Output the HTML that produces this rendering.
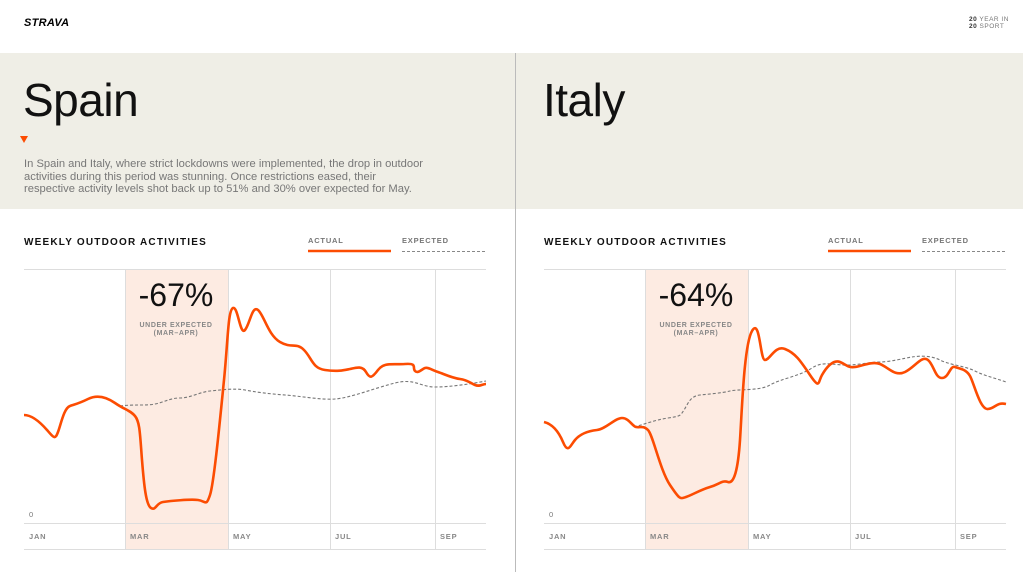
<!DOCTYPE html>
<html><head><meta charset="utf-8"><style>
*{margin:0;padding:0;box-sizing:border-box}
body{width:1023px;height:572px;overflow:hidden;background:#fff;font-family:"Liberation Sans",sans-serif;position:relative}
.abs{position:absolute}
</style></head><body>
<div class="abs" style="left:24px;top:17px;font-weight:900;font-size:11px;letter-spacing:0.3px;font-style:italic">STRAVA</div>
<div class="abs" style="left:969px;top:16px;font-size:6.5px;line-height:7px;color:#777;letter-spacing:0.5px"><b style="color:#333">20</b> YEAR IN<br><b style="color:#333">20</b> SPORT</div>
<div class="abs" style="left:0;top:53px;width:1023px;height:156px;background:#efeee6"></div>
<div class="abs" style="left:515px;top:53px;width:1px;height:519px;background:#bbb"></div>
<div class="abs" style="left:23px;top:73px;font-size:46px;color:#111;letter-spacing:-0.5px">Spain</div>
<div class="abs" style="left:543px;top:73px;font-size:46px;color:#111;letter-spacing:-0.5px">Italy</div>
<div class="abs" style="left:20px;top:136px;width:0;height:0;border-left:4px solid transparent;border-right:4px solid transparent;border-top:7px solid #fc4c02"></div>
<div class="abs" style="left:24px;top:158px;white-space:nowrap;font-size:11.2px;line-height:12.5px;color:#777">In Spain and Italy, where strict lockdowns were implemented, the drop in outdoor<br>activities during this period was stunning. Once restrictions eased, their<br>respective activity levels shot back up to 51% and 30% over expected for May.</div>
<svg class="abs" style="left:0;top:0" width="1023" height="572" font-family="Liberation Sans, sans-serif">
<g id="L">
<text x="24" y="245" font-size="10" font-weight="bold" letter-spacing="1.2" fill="#111">WEEKLY OUTDOOR ACTIVITIES</text>
<text x="308" y="243" font-size="7.5" font-weight="bold" letter-spacing="0.8" fill="#777">ACTUAL</text>
<line x1="308" y1="251" x2="391" y2="251" stroke="#fc4c02" stroke-width="2.5"/>
<text x="402" y="243" font-size="7.5" font-weight="bold" letter-spacing="0.8" fill="#777">EXPECTED</text>
<line x1="402" y1="251.5" x2="486" y2="251.5" stroke="#888" stroke-width="1" stroke-dasharray="3,2"/>
<rect x="125" y="269" width="103" height="280" fill="#fdebe2"/>
<line x1="24" y1="269.5" x2="486" y2="269.5" stroke="#ddd"/>
<line x1="24" y1="523.5" x2="486" y2="523.5" stroke="#ddd"/>
<line x1="24" y1="549.5" x2="486" y2="549.5" stroke="#ddd"/>
<g stroke="#ddd"><line x1="125.5" y1="269" x2="125.5" y2="549"/><line x1="228.5" y1="269" x2="228.5" y2="549"/><line x1="330.5" y1="269" x2="330.5" y2="549"/><line x1="435.5" y1="269" x2="435.5" y2="549"/></g>
<text x="29" y="517" font-size="7.5" fill="#777">0</text>
<g font-size="7.5" font-weight="bold" fill="#888" letter-spacing="0.8"><text x="29" y="539">JAN</text><text x="130" y="539">MAR</text><text x="233" y="539">MAY</text><text x="335" y="539">JUL</text><text x="440" y="539">SEP</text></g>
<text x="176" y="306" font-size="32" text-anchor="middle" fill="#111">-67%</text>
<text x="176" y="327" font-size="7" font-weight="bold" text-anchor="middle" fill="#888" letter-spacing="0.6">UNDER EXPECTED</text>
<text x="176" y="335" font-size="7" font-weight="bold" text-anchor="middle" fill="#888" letter-spacing="0.6">(MAR–APR)</text>
<path d="M120,406 C135,404 145,406 155,404 S170,398 180,398 S200,392 210,391 S235,388 245,390 S270,394 285,395 S320,400 335,399 S375,388 395,383 S420,387 435,387 S470,384 486,381" fill="none" stroke="#777" stroke-width="1.1" stroke-dasharray="3,2"/>
<path d="M24,415 C32,415 40,422 47,430 S55,440 58,432 S64,408 70,406 S80,403 88,399 S105,396 115,403 S130,410 135,416 S140,435 142,460 S146,505 151,508 S156,503 163,502 S190,499 198,500 S206,507 210,495 S220,420 224,380 S228,310 233,308 S240,336 245,330 S252,305 258,310 S268,335 280,342 S296,342 304,350 S312,368 325,370 S345,370 350,369 S362,365 366,372 S372,378 378,370 S392,365 405,364 S412,368 415,371 S422,369 425,368 S432,370 438,372 S452,378 460,379 S470,383 475,385 S482,384 486,384" fill="none" stroke="#fc4c02" stroke-width="2.6" stroke-linejoin="round"/>
</g>
<g>
<text x="544" y="245" font-size="10" font-weight="bold" letter-spacing="1.2" fill="#111">WEEKLY OUTDOOR ACTIVITIES</text>
<text x="828" y="243" font-size="7.5" font-weight="bold" letter-spacing="0.8" fill="#777">ACTUAL</text>
<line x1="828" y1="251" x2="911" y2="251" stroke="#fc4c02" stroke-width="2.5"/>
<text x="922" y="243" font-size="7.5" font-weight="bold" letter-spacing="0.8" fill="#777">EXPECTED</text>
<line x1="922" y1="251.5" x2="1006" y2="251.5" stroke="#888" stroke-width="1" stroke-dasharray="3,2"/>
<rect x="645" y="269" width="103" height="280" fill="#fdebe2"/>
<line x1="544" y1="269.5" x2="1006" y2="269.5" stroke="#ddd"/>
<line x1="544" y1="523.5" x2="1006" y2="523.5" stroke="#ddd"/>
<line x1="544" y1="549.5" x2="1006" y2="549.5" stroke="#ddd"/>
<g stroke="#ddd"><line x1="645.5" y1="269" x2="645.5" y2="549"/><line x1="748.5" y1="269" x2="748.5" y2="549"/><line x1="850.5" y1="269" x2="850.5" y2="549"/><line x1="955.5" y1="269" x2="955.5" y2="549"/></g>
<text x="549" y="517" font-size="7.5" fill="#777">0</text>
<g font-size="7.5" font-weight="bold" fill="#888" letter-spacing="0.8"><text x="549" y="539">JAN</text><text x="650" y="539">MAR</text><text x="753" y="539">MAY</text><text x="855" y="539">JUL</text><text x="960" y="539">SEP</text></g>
<text x="696" y="306" font-size="32" text-anchor="middle" fill="#111">-64%</text>
<text x="696" y="327" font-size="7" font-weight="bold" text-anchor="middle" fill="#888" letter-spacing="0.6">UNDER EXPECTED</text>
<text x="696" y="335" font-size="7" font-weight="bold" text-anchor="middle" fill="#888" letter-spacing="0.6">(MAR–APR)</text>
<path d="M634,427 C645,424 655,420 668,418 S680,416 684,410 S690,396 700,395 S722,393 730,391 S760,391 770,385 S800,376 812,368 S835,366 850,365 S870,362 880,362 S905,358 912,357 S930,355 940,360 S965,366 975,371 S995,378 1006,382" fill="none" stroke="#777" stroke-width="1.1" stroke-dasharray="3,2"/>
<path d="M544,422 C552,424 558,430 563,442 S570,446 575,440 S588,431 597,430 S615,418 622,418 S632,426 636,427 S643,425 648,430 S660,470 670,485 S680,499 686,497 S700,490 710,487 S722,480 728,482 S738,470 740,440 S744,345 752,331 S760,360 765,360 S775,345 785,349 S800,360 810,375 S818,382 822,375 S833,359 840,362 S848,368 855,367 S872,361 880,364 S895,377 905,372 S922,355 928,360 S935,378 942,378 S950,365 955,367 S966,369 970,376 S980,410 988,409 S996,402 1006,404" fill="none" stroke="#fc4c02" stroke-width="2.6" stroke-linejoin="round"/>
</g>
</svg>
</body></html>
